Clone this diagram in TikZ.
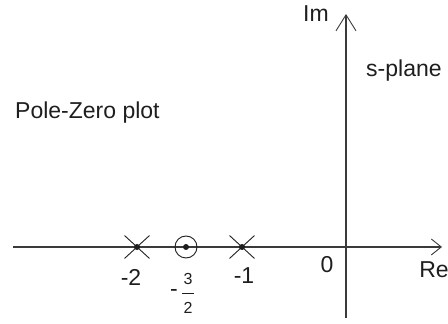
\documentclass[tikz,border=0pt]{standalone}
\usepackage{fontspec}
\setmainfont{Liberation Sans}
\usetikzlibrary{arrows.meta,positioning,calc,shapes.misc}
\definecolor{ink}{HTML}{1E1E1E}
\definecolor{ink2}{HTML}{3A3A3A}
\tikzset{
  axis/.style={line width=1.4pt, draw=ink2},
  pole/.style={cross out, draw=ink, line width=0.9pt, minimum width=24pt, minimum height=22pt, inner sep=0pt},
  zeromark/.style={circle, draw=ink, line width=0.9pt, minimum size=22pt, inner sep=0pt},
  dot/.style={circle, fill=ink, minimum size=6pt, inner sep=0pt},
  lab/.style={font=\fontsize{23}{23}\selectfont, text=ink, inner sep=0pt},
  fraclab/.style={font=\fontsize{16}{16}\selectfont, text=ink, inner sep=0pt},
}
\begin{document}
\begin{tikzpicture}[x=1pt,y=1pt]
    \useasboundingbox (0,0) rectangle (448,324);
    % axes
    \coordinate (reL) at (13,77);
    \coordinate (reR) at (442,77);
    \coordinate (imB) at (346,6);
    \coordinate (imT) at (346,310);
    \draw[axis, -{Straight Barb[length=10pt,width=16pt,line width=0.9pt]}] (reL) -- (reR);
    \draw[axis, -{Straight Barb[length=16pt,width=20pt,line width=0.9pt]}] (imB) -- (imT);
    % poles and zero
    \node[pole] (pm2) at (137,77) {};
    \node[dot] (pm2dot) at (pm2) {};
    \node[zeromark] (z) at (186,77) {};
    \node[dot] (zdot) at (z) {};
    \node[pole] (pm1) at (242,77) {};
    \node[dot] (pm1dot) at (pm1) {};
    % labels
    \node[lab] (lm2) at (131,47) {-2};
    \node[lab] (lm1) at (244,48) {-1};
    \node[lab] (l0) at (327,59) {0};
    \node[fraclab] (num) at (188,45) {3};
    \node[fraclab] (den) at (188,16) {2};
    \node[lab] (minus) at (174,31) {-};
    \draw[ink, line width=0.9pt] ($(num.south)!0.5!(den.north)+(-6,0)$) -- ++(12,0);
    \node[lab, anchor=base] (lre) at (434,46) {Re};
    \node[lab, anchor=base] (lim) at (316,302) {Im};
    \node[lab, anchor=base west] (lsp) at (366,247) {s-plane};
    \node[lab, anchor=base west] (title) at (15,205) {Pole-Zero plot};
\end{tikzpicture}
\end{document}
